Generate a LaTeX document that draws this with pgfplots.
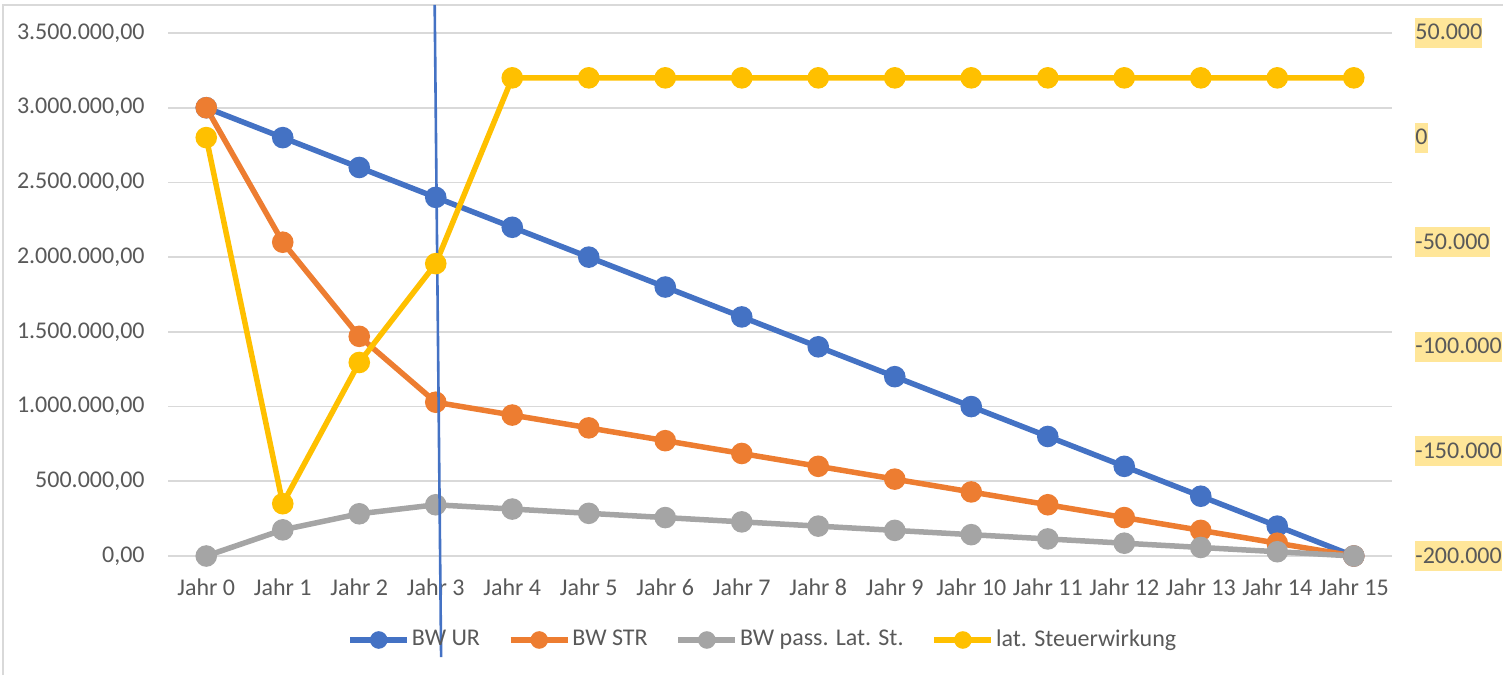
\documentclass[border=0pt]{standalone}
\usepackage{pgfplots}
\pgfplotsset{compat=1.18}
\usepackage{fontspec}
\setmainfont{Carlito}
\definecolor{cBlue}{HTML}{4472C4}
\definecolor{cOrange}{HTML}{ED7D31}
\definecolor{cGray}{HTML}{A5A5A5}
\definecolor{cYellow}{HTML}{FFC000}
\definecolor{cGrid}{HTML}{D9D9D9}
\definecolor{cText}{HTML}{595959}
\definecolor{cHL}{HTML}{FFE699}
\pgfplotsset{
  ser/.style={line width=2.75pt, mark=*, mark size=4pt, mark options={solid, fill=#1, draw=#1}, color=#1},
  legend image code/.code={\draw[mark repeat=2,mark phase=2, mark size=3pt] plot coordinates {(0pt,0pt)(14.25pt,0pt)(28.5pt,0pt)};},
}
\begin{document}
\fontsize{12}{14.4}\selectfont
\begin{tikzpicture}[font=\fontsize{12}{14.4}\selectfont]
\path[use as bounding box] (0,0) rectangle (751.5pt,337.5pt);
\draw[cGrid, line width=0.9pt] (1.5pt,0) -- (1.5pt,335pt) -- (751.5pt,335pt);
\begin{axis}[at={(84pt,59.5pt)}, anchor=south west, scale only axis,
  width=612pt, height=261.5pt,
  xmin=-0.5, xmax=15.5, ymin=0, ymax=3500000,
  axis line style={draw=none}, major tick length=0pt,
  ymajorgrids, grid style={cGrid, line width=0.9pt},
  xtick={0,...,15},
  xticklabels={Jahr 0,Jahr 1,Jahr 2,Jahr 3,Jahr 4,Jahr 5,Jahr 6,Jahr 7,Jahr 8,Jahr 9,Jahr 10,Jahr 11,Jahr 12,Jahr 13,Jahr 14,Jahr 15},
  ytick={0,500000,1000000,1500000,2000000,2500000,3000000,3500000},
  yticklabels={{0,00},{500.000,00},{1.000.000,00},{1.500.000,00},{2.000.000,00},{2.500.000,00},{3.000.000,00},{3.500.000,00}},
  scaled y ticks=false,
  yticklabel style={anchor=east, inner xsep=0pt, xshift=-11.5pt, text=cText},
  xticklabel style={anchor=base, yshift=-19.5pt, text=cText},
  clip=false,
]
\addplot[ser=cBlue] coordinates {(0,3000000)(1,2800000)(2,2600000)(3,2400000)(4,2200000)(5,2000000)(6,1800000)(7,1600000)(8,1400000)(9,1200000)(10,1000000)(11,800000)(12,600000)(13,400000)(14,200000)(15,0)};
\addplot[ser=cOrange] coordinates {(0,3000000)(1,2100000)(2,1470000)(3,1029000)(4,943250)(5,857500)(6,771750)(7,686000)(8,600250)(9,514500)(10,428750)(11,343000)(12,257250)(13,171500)(14,85750)(15,0)};
\addplot[ser=cGray] coordinates {(0,0)(1,175000)(2,282500)(3,342750)(4,314188)(5,285625)(6,257063)(7,228500)(8,199938)(9,171375)(10,142813)(11,114250)(12,85688)(13,57125)(14,28563)(15,0)};
\end{axis}
\begin{axis}[at={(84pt,59.5pt)}, anchor=south west, scale only axis,
  width=612pt, height=261.5pt,
  xmin=-0.5, xmax=15.5, ymin=-200000, ymax=50000,
  hide x axis, axis line style={draw=none}, major tick length=0pt,
  yticklabel pos=right,
  ytick={-200000,-150000,-100000,-50000,0,50000},
  yticklabels={-200.000,-150.000,-100.000,-50.000,0,50.000},
  scaled y ticks=false,
  yticklabel style={anchor=west, inner xsep=0pt, inner ysep=0pt, text height=11pt, text depth=4pt, xshift=11.5pt, fill=cHL, text=cText},
  clip=false,
  legend style={at={(0.486,-0.1606)}, anchor=center, draw=none, fill=none,
    legend columns=4, /tikz/every even column/.append style={column sep=13pt},
    text=cText, nodes={inner xsep=1pt}},
  legend cell align=left,
]
\addlegendimage{ser=cBlue}
\addlegendentry{BW UR}
\addlegendimage{ser=cOrange}
\addlegendentry{BW STR}
\addlegendimage{ser=cGray}
\addlegendentry{BW pass. Lat. St.}
\addplot[ser=cYellow] coordinates {(0,0)(1,-175000)(2,-107500)(3,-60250)(4,28563)(5,28563)(6,28563)(7,28563)(8,28563)(9,28563)(10,28563)(11,28563)(12,28563)(13,28563)(14,28563)(15,28563)};
\addlegendentry{lat. Steuerwirkung}
\draw[cBlue, line width=1.3pt] (axis cs:2.986,63400) -- (axis cs:3.07,-248300);
\end{axis}
\end{tikzpicture}
\end{document}
